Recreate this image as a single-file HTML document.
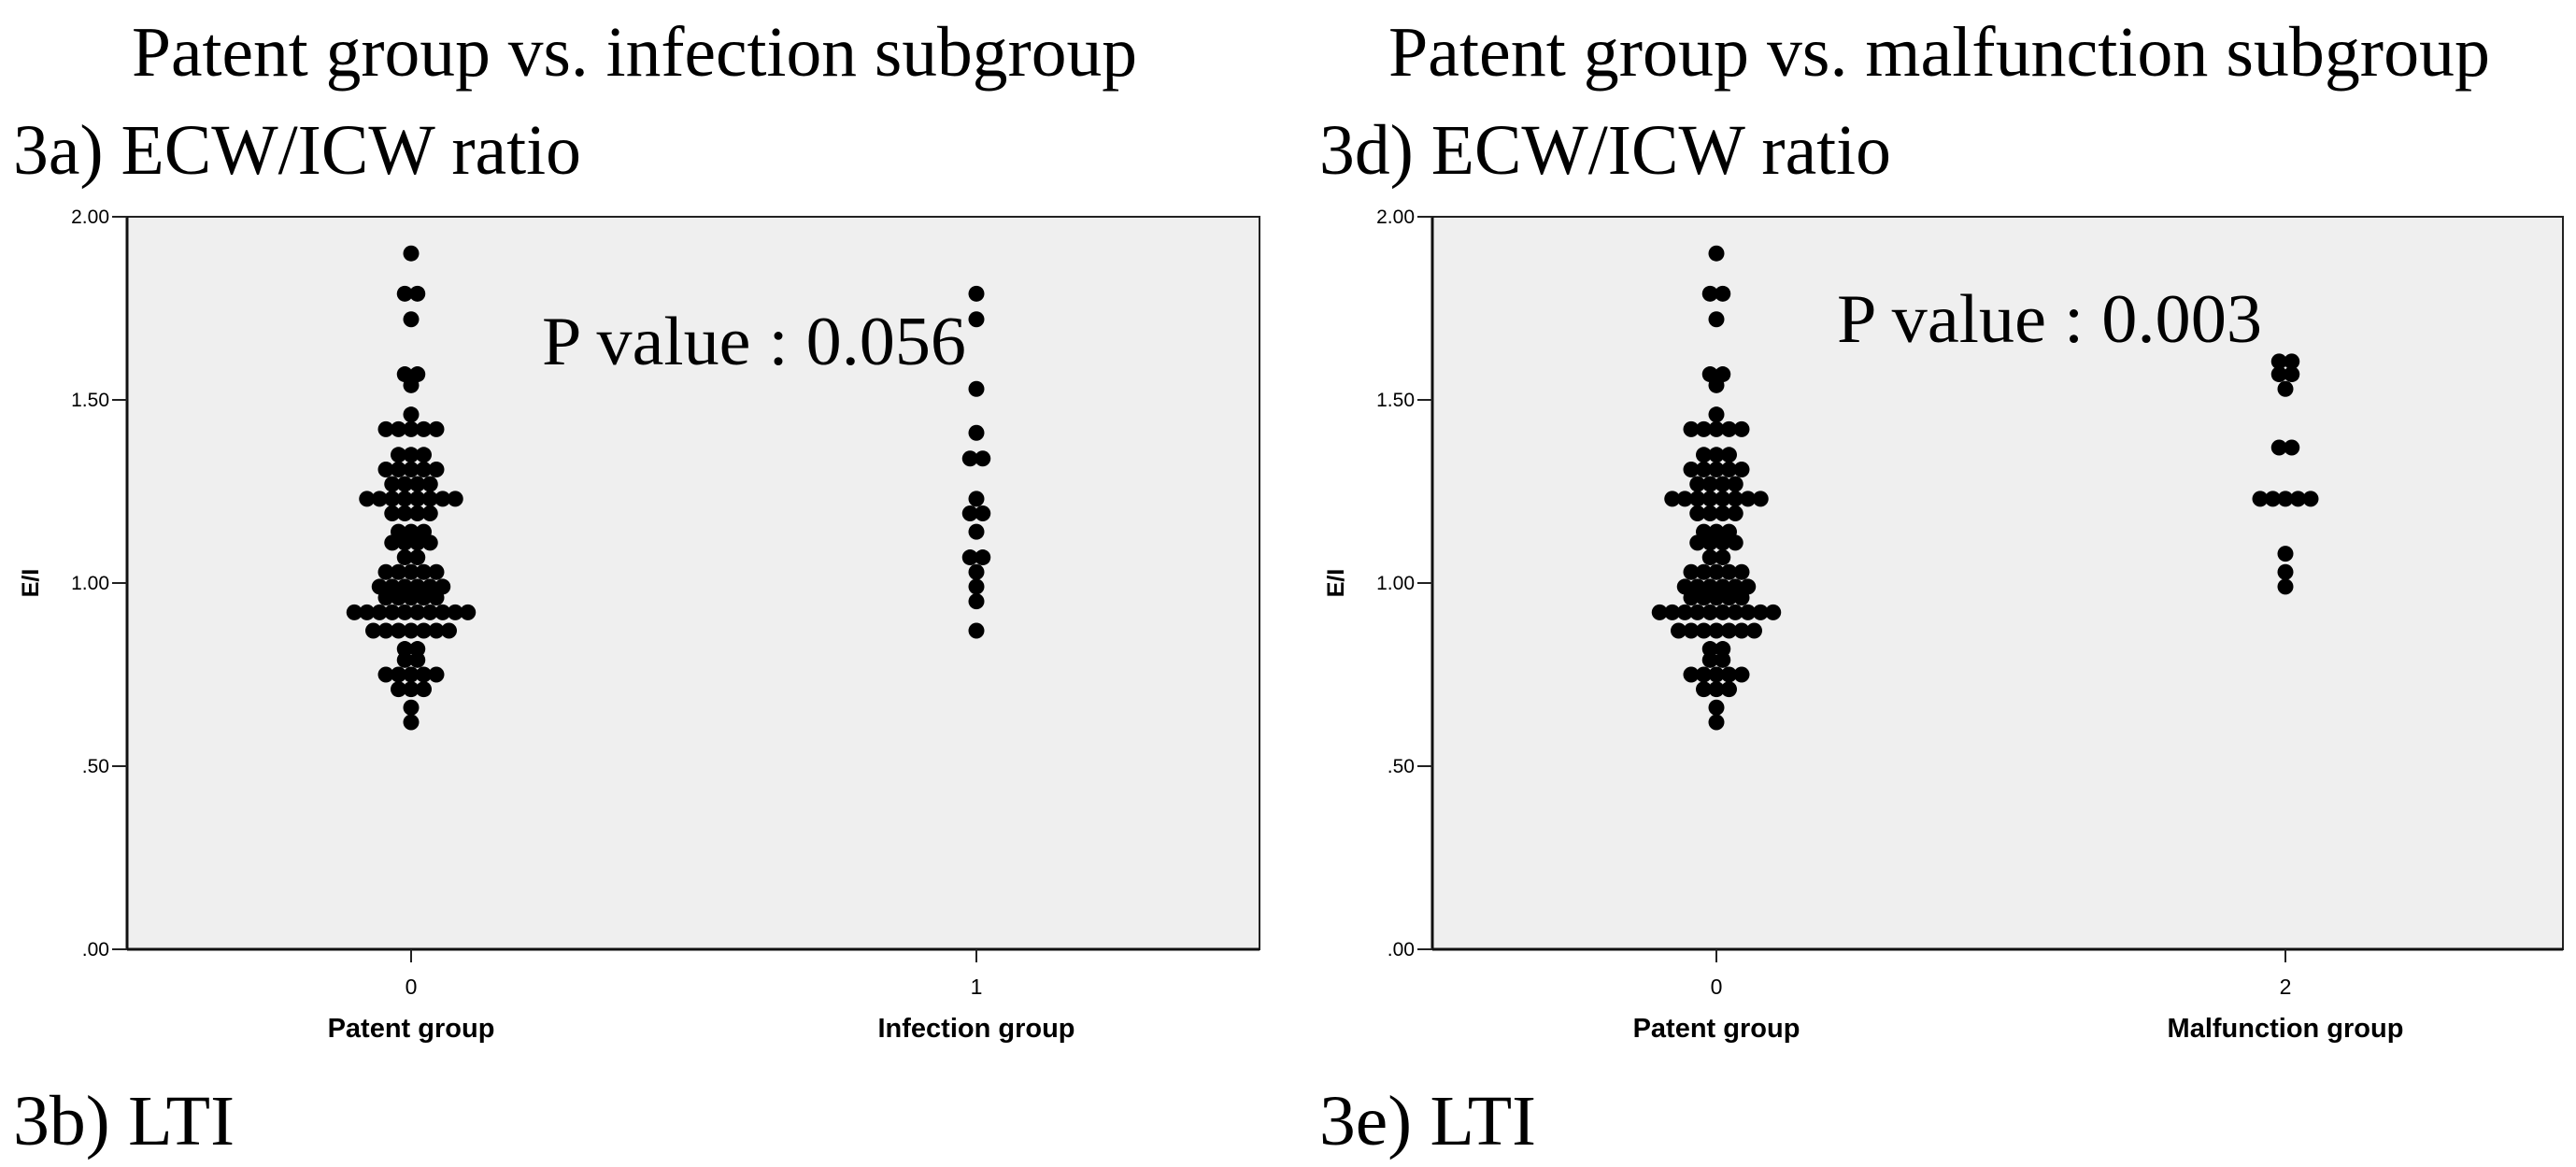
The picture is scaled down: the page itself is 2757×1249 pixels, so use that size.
<!DOCTYPE html>
<html><head><meta charset="utf-8"><style>
html,body{margin:0;padding:0;background:#fff;}
svg{display:block;}
.serif{font-family:"Liberation Serif","Times New Roman",serif;fill:#000;}
.sans{font-family:"Liberation Sans",Arial,sans-serif;fill:#000;}
</style></head><body>
<svg id="fig" width="2757" height="1249" viewBox="0 0 2757 1249">
<text class="serif" x="141" y="81" font-size="76" textLength="1076" lengthAdjust="spacingAndGlyphs">Patent group vs. infection subgroup</text>
<text class="serif" x="14" y="186" font-size="76" textLength="608" lengthAdjust="spacingAndGlyphs">3a) ECW/ICW ratio</text>
<text class="serif" x="14" y="1225" font-size="76" textLength="237" lengthAdjust="spacingAndGlyphs">3b) LTI</text>
<text class="serif" x="1486" y="81" font-size="76" textLength="1179" lengthAdjust="spacingAndGlyphs">Patent group vs. malfunction subgroup</text>
<text class="serif" x="1412" y="186" font-size="76" textLength="612" lengthAdjust="spacingAndGlyphs">3d) ECW/ICW ratio</text>
<text class="serif" x="1412" y="1225" font-size="76" textLength="232" lengthAdjust="spacingAndGlyphs">3e) LTI</text>
</svg>
<script>
// Data
const yTicks = [0, 0.5, 1.0, 1.5, 2.0];
const yTickLabels = [".00", ".50", "1.00", "1.50", "2.00"];
const patentValues = [1.90,1.79,1.72,1.57,1.54,1.46,1.42,1.35,1.31,1.27,1.23,1.19,1.14,1.11,1.07,1.03,0.99,0.96,0.92,0.87,0.82,0.79,0.75,0.71,0.66,0.62];
const patentCounts = [1,2,1,2,1,1,5,3,5,4,8,4,3,4,2,5,6,5,10,7,2,2,5,3,1,1];
const infectionValues = [1.79,1.72,1.53,1.41,1.34,1.23,1.19,1.14,1.07,1.03,0.99,0.95,0.87];
const infectionCounts = [1,1,1,1,2,1,2,1,2,1,1,1,1];
const malfunctionValues = [1.605,1.57,1.53,1.37,1.23,1.08,1.03,0.99];
const malfunctionCounts = [2,2,1,2,5,1,1,1];
const leftCategories = ["Patent group","Infection group"];
const leftCodes = ["0","1"];
const rightCategories = ["Patent group","Malfunction group"];
const rightCodes = ["0","2"];

const NS = "http://www.w3.org/2000/svg";
const svg = document.getElementById('fig');
function mk(tag, attrs, parent){const e=document.createElementNS(NS,tag);for(const k in attrs)e.setAttribute(k,attrs[k]);(parent||svg).appendChild(e);return e;}

function panel(p){
  const g = mk('g',{});
  
  
  const y = v => p.bottom - (v/2.0)*(p.bottom-p.top);
  const bg = mk('rect',{x:p.left,y:p.top,width:p.right-p.left,height:p.bottom-p.top,fill:'#efefef',stroke:'#222','stroke-width':2},g);
  
  
  mk('line',{x1:p.left,y1:p.top,x2:p.left,y2:p.bottom,stroke:'#111','stroke-width':3},g);
  mk('line',{x1:p.left,y1:p.bottom,x2:p.right,y2:p.bottom,stroke:'#111','stroke-width':3},g);
  yTicks.forEach((t,i)=>{
    mk('line',{x1:p.left-16,y1:y(t),x2:p.left,y2:y(t),stroke:'#222','stroke-width':2},g);
    const tx = mk('text',{x:p.left-19,y:y(t)+7,'font-size':21,'text-anchor':'end',class:'sans',fill:'#222'},g);
    tx.textContent = yTickLabels[i];
    
    
  });
  const yl = mk('text',{x:0,y:0,'font-size':25,'font-weight':'bold','text-anchor':'middle',class:'sans',transform:`translate(${p.left-95},${y(1.0)}) rotate(-90)`},g);
  yl.textContent = 'E/I';
  
  
  p.cats.forEach((c,i)=>{
    const cx = p.catX[i];
    mk('line',{x1:cx,y1:p.bottom,x2:cx,y2:p.bottom+14,stroke:'#222','stroke-width':2},g);
    const ct = mk('text',{x:cx,y:p.bottom+48,'font-size':23,'text-anchor':'middle',class:'sans',fill:'#222'},g);
    ct.textContent = p.codes[i];
    
    
    const cl = mk('text',{x:cx,y:p.bottom+94,'font-size':29,'font-weight':'bold','text-anchor':'middle',class:'sans'},g);
    cl.textContent = c;
    
    
    const vals = p.values[i], cnts = p.counts[i];
    vals.forEach((v,j)=>{
      const n = cnts[j];
      for(let k=0;k<n;k++){
        const dx = (k-(n-1)/2)*13.5;
        const d = mk('circle',{cx:cx+dx,cy:y(v),r:8.5,fill:'#000'},g);
        
        
      }
    });
  });
  const pv = mk('text',{x:p.pvX,y:p.pvY,'font-size':74,class:'serif',textLength:p.pvW,lengthAdjust:'spacingAndGlyphs'},g);
  pv.textContent = p.pv;
  
  
}
panel({name:'left-chart',left:136,right:1348,top:232,bottom:1016,cats:leftCategories,codes:leftCodes,catX:[440,1045],
  values:[patentValues,infectionValues],counts:[patentCounts,infectionCounts],pv:'P value : 0.056',pvX:580,pvY:390,pvW:454});
panel({name:'right-chart',left:1533,right:2743,top:232,bottom:1016,cats:rightCategories,codes:rightCodes,catX:[1837,2446],
  values:[patentValues,malfunctionValues],counts:[patentCounts,malfunctionCounts],pv:'P value : 0.003',pvX:1966,pvY:366,pvW:455});
</script>
</body></html>
